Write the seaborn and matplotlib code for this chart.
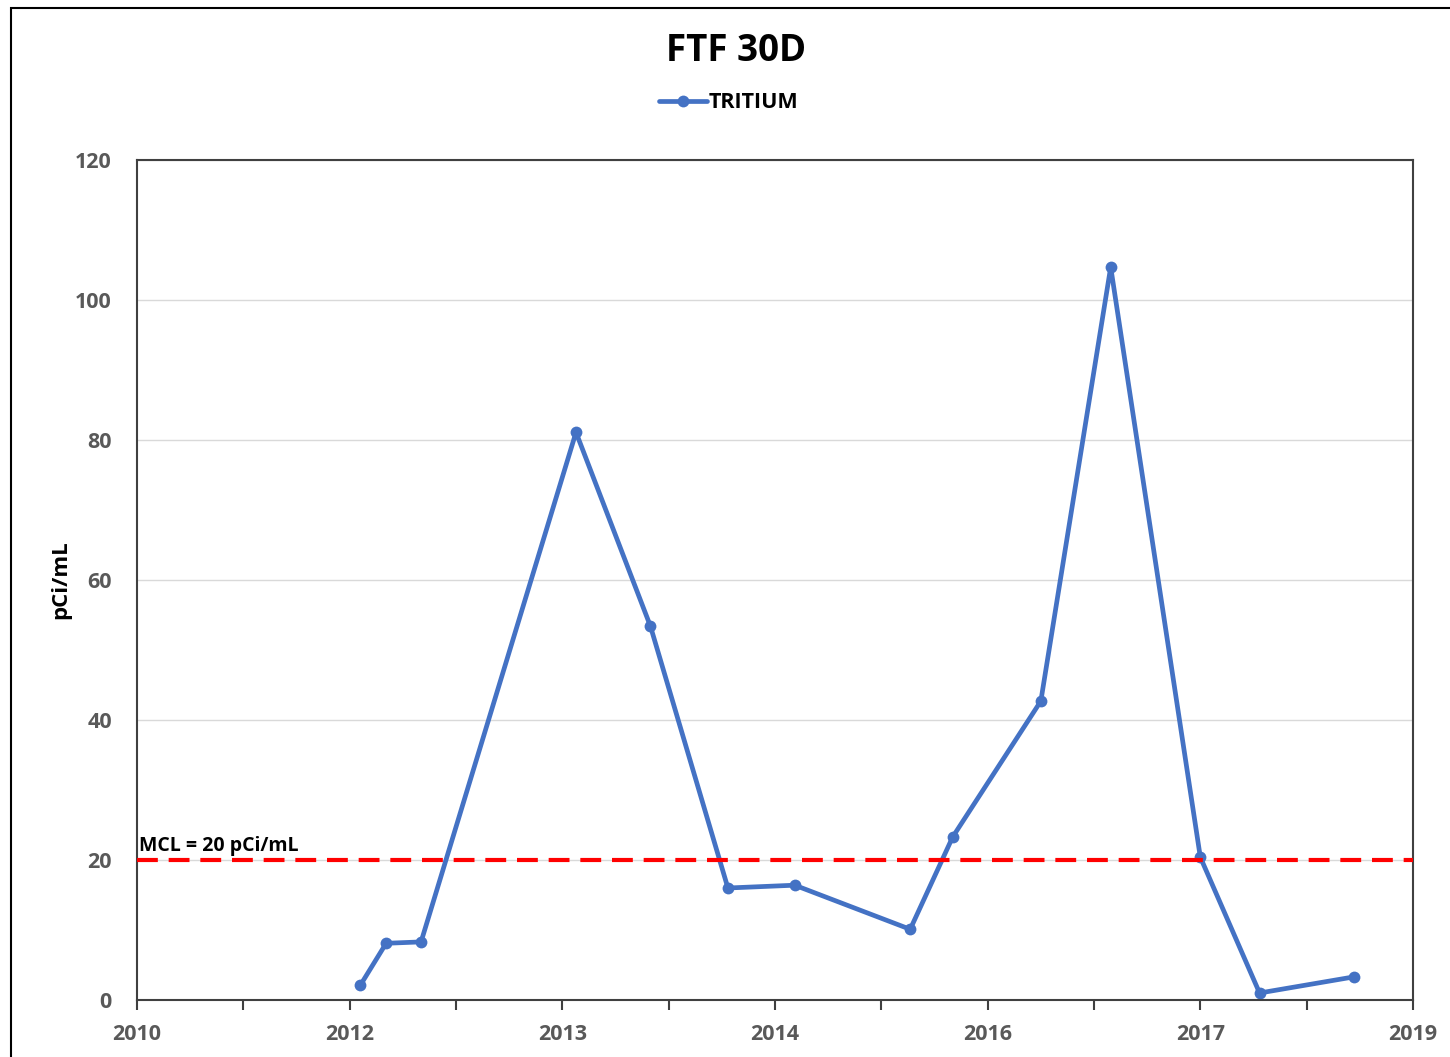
import matplotlib
matplotlib.use("Agg")
import matplotlib.pyplot as plt
import numpy as np
import pandas as pd
import seaborn as sns

# sample dates (decimal years) and tritium results
sample_year = [2012.17, 2012.34, 2012.57, 2013.59, 2014.08, 2014.59, 2015.03,
               2015.79, 2016.07, 2016.65, 2017.11, 2017.70, 2018.09, 2018.71]
tritium = [2.1, 8.1, 8.3, 81.1, 53.4, 16.0, 16.4,
           10.1, 23.3, 42.7, 104.7, 20.4, 1.0, 3.3]

mcl = 20
axis_start = 2010.7
axis_step = 1.4
year_labels = ["2010", "2012", "2013", "2014", "2016", "2017", "2019"]
y_ticks = [0, 20, 40, 60, 80, 100, 120]

df = pd.DataFrame({"date": sample_year, "TRITIUM": tritium})

sns.set_style("white")
plt.rcParams["font.family"] = ["Open Sans", "DejaVu Sans"]
plt.rcParams["text.color"] = "black"

fig = plt.figure(figsize=(14.5, 10.57), dpi=100)
ax = fig.add_axes([137 / 1450, 1 - 1000 / 1057, (1413 - 137) / 1450, (1000 - 160) / 1057])

# outer chart border (left and top visible, rest cropped)
fig.patches.append(plt.Rectangle((11 / 1450, -0.1), 1.2, 1 - 8 / 1057 + 0.1,
                                 transform=fig.transFigure, fill=False,
                                 edgecolor="black", linewidth=1.5))

sns.lineplot(data=df, x="date", y="TRITIUM", ax=ax, color="#4472C4",
             linewidth=3.4, marker="o", markersize=8.5, markeredgewidth=0,
             label="TRITIUM")

ax.axhline(mcl, color="#FF0000", linewidth=3, linestyle=(0, (5, 2.6)), zorder=3)
ax.text(axis_start + 0.01, mcl + 0.5, "MCL = 20 pCi/mL", fontsize=14,
        fontweight="bold", color="black", ha="left", va="bottom")

x_end = axis_start + axis_step * (len(year_labels) - 1)
ax.set_xlim(axis_start, x_end)
ax.set_ylim(0, 120)
major = [axis_start + axis_step * i for i in range(len(year_labels))]
ax.set_xticks(major)
ax.set_xticklabels(year_labels)
ax.set_xticks([m + axis_step / 2 for m in major[:-1]], minor=True)
ax.set_yticks(y_ticks)
ax.yaxis.grid(True, color="#D9D9D9", linewidth=1)
ax.set_axisbelow(True)

for sp in ax.spines.values():
    sp.set_color("#404040")
    sp.set_linewidth(1.5)

ax.tick_params(axis="x", which="both", direction="out", length=7, width=1.5,
               color="#404040", bottom=True, pad=10)
ax.tick_params(axis="y", length=0, pad=18)
for lab in ax.get_xticklabels() + ax.get_yticklabels():
    lab.set_fontsize(15.5)
    lab.set_fontweight("bold")
    lab.set_color("#595959")

ax.set_xlabel("")
ax.set_ylabel("pCi/mL", fontsize=16, fontweight="bold", color="black", labelpad=3)

fig.suptitle("FTF 30D", x=736 / 1450, y=1 - 32 / 1057, fontsize=26.5,
             fontweight="bold", va="top", color="black")
leg = ax.legend(loc="center", bbox_to_anchor=(729 / 1450, 1 - 103 / 1057),
                bbox_transform=fig.transFigure, frameon=False, fontsize=15.5,
                handlelength=2.2, handletextpad=0.1)
for t in leg.get_texts():
    t.set_fontweight("bold")
    t.set_color("black")

fig.savefig("out.png", dpi=100)
